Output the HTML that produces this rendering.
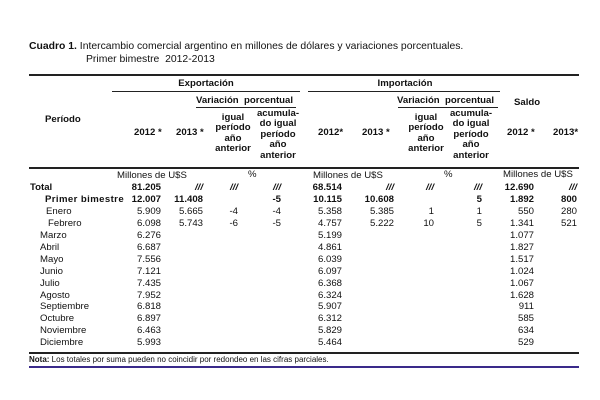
<!DOCTYPE html>
<html><head><meta charset="utf-8"><style>
body{margin:0;width:600px;height:400px;background:#fff;position:relative;overflow:hidden;font-family:"Liberation Sans",Arial,sans-serif;color:#111}
.a{position:absolute;white-space:nowrap;font-size:9.6px;line-height:10px}
.b{font-weight:bold}
.r{text-align:right}
.c{text-align:center}
.l{position:absolute;background:#222;height:1px}
.h{line-height:10.4px}
</style></head><body>
<div class="a" style="left:29px;top:40px;font-size:10.4px;line-height:13px"><b>Cuadro 1.</b> Intercambio comercial argentino en millones de dólares y variaciones porcentuales.</div>
<div class="a" style="left:86px;top:53px;font-size:10.4px;line-height:13px">Primer bimestre&nbsp; 2012-2013</div>
<div class="l" style="left:29px;top:74px;width:550px;height:1.5px"></div>
<div class="a b c" style="left:112px;top:79px;width:188px">Exportación</div>
<div class="a b c" style="left:310px;top:79px;width:190px">Importación</div>
<div class="l" style="left:112px;top:91px;width:188px"></div>
<div class="l" style="left:308px;top:91px;width:192px"></div>
<div class="a b" style="left:196px;top:96px">Variación&nbsp; porcentual</div>
<div class="a b" style="left:397px;top:96px">Variación&nbsp; porcentual</div>
<div class="l" style="left:196px;top:107px;width:100px"></div>
<div class="l" style="left:398px;top:107px;width:100px"></div>
<div class="a b" style="left:45px;top:115px">Período</div>
<div class="a b" style="left:514px;top:98px">Saldo</div>
<div class="a b" style="left:134px;top:128px">2012 *</div>
<div class="a b" style="left:176px;top:128px">2013 *</div>
<div class="a b c h" style="left:207px;top:113px;width:52px">igual<br>período<br>año<br>anterior</div>
<div class="a b c h" style="left:251px;top:109px;width:54px">acumula-<br>do igual<br>período<br>año<br>anterior</div>
<div class="a b" style="left:318px;top:128px">2012*</div>
<div class="a b" style="left:362px;top:128px">2013 *</div>
<div class="a b c h" style="left:400px;top:113px;width:52px">igual<br>período<br>año<br>anterior</div>
<div class="a b c h" style="left:444px;top:109px;width:54px">acumula-<br>do igual<br>período<br>año<br>anterior</div>
<div class="a b" style="left:507px;top:128px">2012 *</div>
<div class="a b" style="left:553px;top:128px">2013*</div>
<div class="l" style="left:29px;top:167px;width:550px;height:1.5px"></div>
<div class="a" style="left:117px;top:171px">Millones de U$S</div>
<div class="a" style="left:248px;top:170px">%</div>
<div class="a" style="left:313px;top:171px">Millones de U$S</div>
<div class="a" style="left:444px;top:170px">%</div>
<div class="a" style="left:503px;top:170px">Millones de U$S</div>
<div id="rows"></div>
<div class="l" style="left:29px;top:352px;width:550px;height:1.5px"></div>
<div class="a" style="left:29px;top:355px;font-size:8px"><b>Nota:</b> Los totales por suma pueden no coincidir por redondeo en las cifras parciales.</div>
<div class="l" style="left:29px;top:366px;width:550px;height:2px;background:#3a2a8a"></div>
<script>
var R=[
["Total",188,1,0,["81.205","///","///","///","68.514","///","///","///","12.690","///"]],
["Primer bimestre",200,1,1,["12.007","11.408","","-5","10.115","10.608","","5","1.892","800"]],
["Enero",212,0,2,["5.909","5.665","-4","-4","5.358","5.385","1","1","550","280"]],
["Febrero",224,0,3,["6.098","5.743","-6","-5","4.757","5.222","10","5","1.341","521"]]];
var m=[["Marzo","6.276","5.199","1.077"],["Abril","6.687","4.861","1.827"],["Mayo","7.556","6.039","1.517"],["Junio","7.121","6.097","1.024"],["Julio","7.435","6.368","1.067"],["Agosto","7.952","6.324","1.628"],["Septiembre","6.818","5.907","911"],["Octubre","6.897","6.312","585"],["Noviembre","6.463","5.829","634"],["Diciembre","5.993","5.464","529"]];
m.forEach(function(x,i){R.push([x[0],236+i*11.9,0,4,[x[1],"","","",x[2],"","","",x[3],""]])});
var ends=[161,203,238,281,342,394,434,482,534,577];
var lx=[30,45,46,48,40],h="";
R.forEach(function(r){var y=r[1]-5;var b=r[2]?" b":"";
h+='<div class="a'+b+'" style="left:'+lx[r[3]]+'px;top:'+y+'px;'+(r[3]==1?'letter-spacing:0.4px':'')+'">'+r[0]+'</div>';
r[4].forEach(function(v,j){if(v)h+='<div class="a r'+b+'" style="left:'+(ends[j]-60)+'px;width:60px;top:'+y+'px;'+(v=="///"?'font-style:italic':'')+'">'+v+'</div>';});});
document.getElementById("rows").innerHTML=h;
</script>
</body></html>
